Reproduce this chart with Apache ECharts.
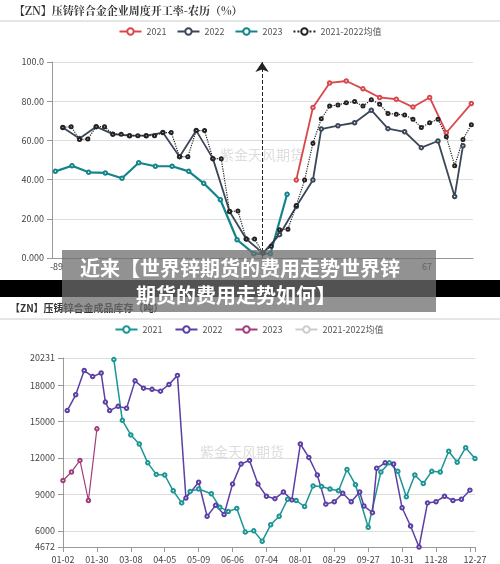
<!DOCTYPE html><html><head><meta charset="utf-8">
<script src="https://cdn.jsdelivr.net/npm/echarts@6/dist/echarts.min.js"></script>
<style>html,body{margin:0;background:#fff}#c{width:500px;height:564px}</style></head><body><div id="c"></div>
<script>
// ---- top chart: weekly operating rate (lunar calendar) ----
const topX2023=[0.4,2.4,4.4,6.4,8.4,10.4,12.4,14.4,16.4,18.2,20.2,22.2,24.2,26.2,28.2];
const topY2023=[44.2,47.1,43.7,43.4,40.7,48.6,46.8,46.8,44.2,38.1,29.7,9.3,2.2,2.2,32.5];
const topX2022=[1.3,3.3,5.3,7.3,9.3,11.3,13.3,15.3,17.3,19.3,21.3,23.3,25.3,27.3,29.3,31.3,32.3,34.3,36.3,38.3,40.3,42.3,44.3,46.3,48.3,49.3];
const topY2022=[66.6,61,67,63.2,62.4,62.4,64,51.7,65,50.7,23.7,9.7,2.5,11.9,26.3,39.8,65.8,67.5,69,75.4,66,64.4,56.3,59.7,31.4,57.3];
const topX2021=[29.3,31.3,33.3,35.3,37.3,39.3,41.3,43.3,45.3,47.3,50.3];
const topY2021=[39.8,76.8,89.3,90.3,86.3,81.9,81,77,81.9,63.9,78.8];
const topYAvg=[66.6,67,60.5,60.7,67,67,63.2,63.2,62.4,62.4,62.4,62.4,64,64,51.7,51.7,65,65,50.7,50.7,23.7,24,9.7,9.7,2.5,6,14.4,14.7,26.8,39.8,58.5,71,77.5,78.1,79.2,79.8,77.5,80.8,78.5,73.7,73.4,72.9,70.8,66.6,69,70.8,61.9,47.1,60.5,68];
const topXAvgStart=1.3;
const topArrowX=25.2;
// ---- bottom chart: finished goods inventory (t) ----
const botTickLabels=['01-02','01-30','03-08','04-05','05-09','06-06','07-04','08-01','08-29','09-27','10-31','11-28','12-27'];
const botYTicks=[4672,6000,9000,12000,15000,18000,20231];
const botX2022=[0.5,1.5,2.5,3.5,4.5,5,5.5,6.5,7.5,8.5,9.5,10.5,11.5,12.5,13.5,14.5,16,17,18,19,20,21,22,23,24,25,26,27,28,29,30,31,32,33,34,35,35.5,36.5,37,38,39,40,41,42,43,44,45,46,47,48];
const botY2022=[15900,17200,19200,18700,19000,16600,15900,16250,16100,18350,17750,17650,17500,18050,18800,8700,10000,7200,8100,7350,9850,11500,11800,9850,8850,8650,9200,8550,13150,12050,10600,8200,8400,9100,8400,9200,8050,7500,11150,11600,11500,7900,6400,4672,8300,8400,8850,8500,8600,9350];
const botX2021=[6,7,8,9,10,11,12,13,14,15,16,17.5,18.5,19.5,20.5,21.5,22.5,23.5,24.5,25.5,26.5,27.5,28.5,29.5,30.5,31.5,32.5,33.5,34.5,36,37.5,38.5,39.5,40.5,41.5,42.5,43.5,44.5,45.5,46.5,47.5,48.6];
const botY2021=[20100,15100,13900,13150,11600,10650,10600,9300,8300,9250,9450,9050,7950,7600,7850,5900,6000,5150,6500,7200,8600,8500,8000,9700,9650,9450,9300,11050,9800,6300,10850,11600,10900,8800,10600,9900,10900,10850,12550,11650,12850,11950];
const botX2023=[0,1,2,3,4];
const botY2023=[10150,10850,11800,8500,14400];

const zip=(a,b)=>a.map((v,i)=>[v,b[i]]);
const avgPts=topYAvg.map((v,i)=>[topXAvgStart+i,v]);
const ff='"Noto Sans CJK SC","Noto Sans",sans-serif';
const ln=(name,data,color,x,y,extra)=>Object.assign({name,type:'line',data,xAxisIndex:x,yAxisIndex:y,symbol:'emptyCircle',symbolSize:3.5,
  lineStyle:{color,width:1.8},itemStyle:{color,borderWidth:1},z:3},extra||{});
const chart=echarts.init(document.getElementById('c'));
chart.setOption({
  animation:false,
  textStyle:{fontFamily:ff},
  legend:[
    {data:['2021','2022','2023','2021-2022均值'],top:22,left:'center',itemWidth:22,itemHeight:8,itemGap:10,textStyle:{fontSize:9,color:'#555'}},
    {data:['2021 ','2022 ','2023 ','2021-2022均值 '],top:320,left:'center',itemWidth:22,itemHeight:8,itemGap:10,textStyle:{fontSize:9,color:'#555'}}
  ],
  grid:[{left:52,right:27,top:62,bottom:306},{left:63,right:25,top:358,bottom:16}],
  xAxis:[
    {type:'value',gridIndex:0,min:0,max:50.5,splitLine:{show:false},axisLine:{lineStyle:{color:'#999'}},axisTick:{show:false},axisLabel:{show:false}},
    {type:'value',gridIndex:1,min:0,max:48.6,interval:4,splitLine:{show:false},axisLine:{lineStyle:{color:'#999'}},
      axisTick:{show:true,lineStyle:{color:'#999'}},
      axisLabel:{showMaxLabel:true,fontSize:9,color:'#444',formatter:v=>{if(v>48.5)return botTickLabels[12];if(v===48)return '';return botTickLabels[Math.round(v/4)]||'';}}}
  ],
  yAxis:[
    {type:'value',gridIndex:0,min:0,max:100,interval:20,axisLine:{show:true,lineStyle:{color:'#999'}},axisTick:{show:true,lineStyle:{color:'#999'}},
      splitLine:{lineStyle:{color:'#ddd'}},axisLabel:{fontSize:9,color:'#444',formatter:v=>v===100?'100.0':v===0?'0.000':v.toFixed(2)}},
    {type:'value',gridIndex:1,min:4672,max:20231,axisLine:{show:true,lineStyle:{color:'#999'}},
      axisTick:{show:true,customValues:botYTicks,lineStyle:{color:'#999'}},
      splitLine:{lineStyle:{color:'#ddd'}},axisLabel:{fontSize:9,color:'#444',customValues:botYTicks,formatter:v=>String(v)}}
  ],
  series:[
    ln('2023',zip(topX2023,topY2023),'#12848c',0,0,{lineStyle:{color:'#12848c',width:2.2}}),
    ln('2022',zip(topX2022,topY2022),'#3b4758',0,0,{markLine:{silent:true,symbol:['none','arrow'],symbolSize:10,label:{show:false},
      lineStyle:{color:'#222',type:'dashed',width:1},data:[[{coord:[topArrowX,0]},{coord:[topArrowX,100]}]]}}),
    ln('2021',zip(topX2021,topY2021),'#d9484a',0,0),
    ln('2021-2022均值',avgPts,'#222',0,0,{symbolSize:3,lineStyle:{color:'#222',width:1.2,type:'dotted'}}),
    ln('2021 ',zip(botX2021,botY2021),'#1b9595',1,1,{lineStyle:{color:'#1b9595',width:1.5}}),
    ln('2022 ',zip(botX2022,botY2022),'#5b3fa4',1,1,{lineStyle:{color:'#5b3fa4',width:1.5}}),
    ln('2023 ',zip(botX2023,botY2023),'#a23c7c',1,1,{lineStyle:{color:'#a23c7c',width:1.2}}),
    ln('2021-2022均值 ',[],'#ccc',1,1)
  ],
  graphic:[
    {type:'text',left:14,top:5,style:{text:'【ZN】压铸锌合金企业周度开工率-农历（%）',font:'bold 11px "Noto Serif CJK SC","Noto Sans CJK SC",serif',fill:'#333'}},
    {type:'line',shape:{x1:0,y1:21,x2:500,y2:21},style:{stroke:'#ccc',lineWidth:1}},
    {type:'text',left:10,top:303,style:{text:'【ZN】压铸锌合金成品库存（吨）',font:'bold 10px "Noto Sans CJK SC",serif',fill:'#333'}},
    {type:'line',shape:{x1:0,y1:319,x2:500,y2:319},style:{stroke:'#ccc',lineWidth:1}},
    {type:'text',x:220,y:148,style:{text:'紫金天风期货',font:'14px '+ff,fill:'rgba(180,180,180,0.45)'}},
    {type:'text',x:200,y:445,style:{text:'紫金天风期货',font:'14px '+ff,fill:'rgba(180,180,180,0.45)'}},
    {type:'text',x:50,y:262,style:{text:'-89',font:'9px '+ff,fill:'#444'}},
    {type:'text',x:422,y:262,style:{text:'67',font:'9px '+ff,fill:'#444'}},
    {type:'rect',shape:{x:0,y:280,width:500,height:17},style:{fill:'#000'},z:100},
    {type:'rect',shape:{x:62,y:250,width:374,height:62},style:{fill:'rgba(110,110,110,0.75)'},z:101},
    {type:'text',x:240,y:268,style:{text:'近来【世界锌期货的费用走势世界锌',font:'bold 20px "Noto Sans CJK SC"',fill:'#fff',align:'center',verticalAlign:'middle'},z:102},
    {type:'text',x:236,y:295,style:{text:'期货的费用走势如何】',font:'bold 20px "Noto Sans CJK SC"',fill:'#fff',align:'center',verticalAlign:'middle'},z:102}
  ]
});
</script></body></html>
